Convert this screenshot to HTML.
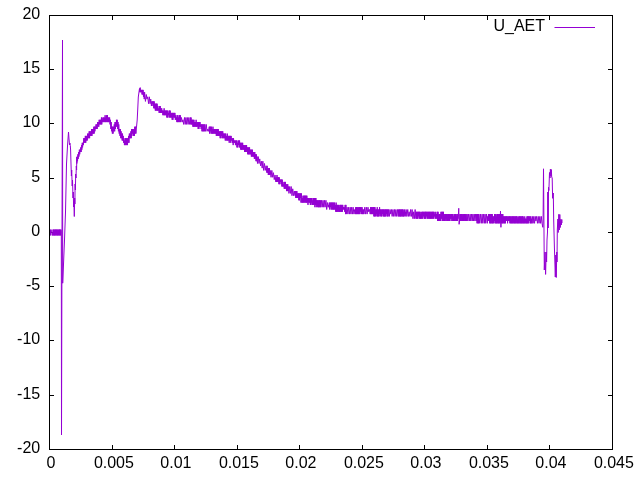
<!DOCTYPE html>
<html lang="en">
<head>
<meta charset="utf-8">
<title>U_AET</title>
<style>
html,body{margin:0;padding:0;background:#fff;width:640px;height:480px;overflow:hidden}
svg{display:block}
</style>
</head>
<body>
<svg width="640" height="480" viewBox="0 0 640 480">
<rect x="0" y="0" width="640" height="480" fill="#ffffff"/>
<g fill="none" stroke="#000" stroke-width="1">
<path d="M49.5,449.5h4.5M612.5,449.5h-4.5"/>
<path d="M49.5,395.5h4.5M612.5,395.5h-4.5"/>
<path d="M49.5,340.5h4.5M612.5,340.5h-4.5"/>
<path d="M49.5,286.5h4.5M612.5,286.5h-4.5"/>
<path d="M49.5,232.5h4.5M612.5,232.5h-4.5"/>
<path d="M49.5,178.5h4.5M612.5,178.5h-4.5"/>
<path d="M49.5,123.5h4.5M612.5,123.5h-4.5"/>
<path d="M49.5,69.5h4.5M612.5,69.5h-4.5"/>
<path d="M49.5,15.5h4.5M612.5,15.5h-4.5"/>
<path d="M49.5,449.5v-4.5M49.5,15.5v4.5"/>
<path d="M112.5,449.5v-4.5M112.5,15.5v4.5"/>
<path d="M174.5,449.5v-4.5M174.5,15.5v4.5"/>
<path d="M237.5,449.5v-4.5M237.5,15.5v4.5"/>
<path d="M299.5,449.5v-4.5M299.5,15.5v4.5"/>
<path d="M362.5,449.5v-4.5M362.5,15.5v4.5"/>
<path d="M424.5,449.5v-4.5M424.5,15.5v4.5"/>
<path d="M487.5,449.5v-4.5M487.5,15.5v4.5"/>
<path d="M549.5,449.5v-4.5M549.5,15.5v4.5"/>
<path d="M612.5,449.5v-4.5M612.5,15.5v4.5"/>
</g>
<g font-family="'Liberation Sans', Arial, sans-serif" font-size="16" fill="#000">
<text x="40.2" y="452.90" text-anchor="end">-20</text>
<text x="40.2" y="398.90" text-anchor="end">-15</text>
<text x="40.2" y="343.90" text-anchor="end">-10</text>
<text x="40.2" y="289.90" text-anchor="end">-5</text>
<text x="40.2" y="235.90" text-anchor="end">0</text>
<text x="40.2" y="181.90" text-anchor="end">5</text>
<text x="40.2" y="126.90" text-anchor="end">10</text>
<text x="40.2" y="72.90" text-anchor="end">15</text>
<text x="40.2" y="18.90" text-anchor="end">20</text>
<text x="50.90" y="468.1" text-anchor="middle">0</text>
<text x="113.90" y="468.1" text-anchor="middle">0.005</text>
<text x="175.90" y="468.1" text-anchor="middle">0.01</text>
<text x="238.90" y="468.1" text-anchor="middle">0.015</text>
<text x="300.90" y="468.1" text-anchor="middle">0.02</text>
<text x="363.90" y="468.1" text-anchor="middle">0.025</text>
<text x="425.90" y="468.1" text-anchor="middle">0.03</text>
<text x="488.90" y="468.1" text-anchor="middle">0.035</text>
<text x="550.90" y="468.1" text-anchor="middle">0.04</text>
<text x="613.90" y="468.1" text-anchor="middle">0.045</text>
<text x="545" y="30.9" text-anchor="end">U_AET</text>
</g>
<path d="M554.5,27.5H595" stroke="#9400d3" stroke-width="1" fill="none"/>
<polyline points="50.00,235.40 50.40,229.60 50.73,235.40 51.10,232.50 51.52,232.50 51.95,229.60 52.38,235.40 52.72,232.50 53.06,235.40 53.43,229.60 53.76,235.40 54.13,229.60 54.51,235.40 54.91,229.60 55.29,235.40 55.65,229.60 56.02,235.40 56.40,229.60 56.79,235.40 57.19,229.60 57.56,235.40 57.94,229.60 58.34,235.40 58.76,229.60 59.16,235.40 59.50,229.60 59.85,235.40 60.18,229.60 60.60,235.40 60.96,229.60 61.30,232.00 61.50,435.00 62.50,40.00 62.70,283.20 63.60,262.00 64.50,240.00 65.50,212.00 66.50,164.00 67.50,146.00 68.50,132.00 69.00,139.00 69.50,145.00 69.90,143.00 70.30,145.50 70.60,150.00 71.00,164.00 71.40,176.00 71.70,170.00 72.20,186.00 72.50,180.00 73.00,198.00 73.30,192.00 73.60,207.00 73.90,202.00 74.30,216.50 74.70,198.00 74.90,204.00 75.10,184.00 75.40,190.00 75.70,174.00 76.00,178.00 76.30,166.00 76.60,170.00 76.80,157.00 76.80,163.50 77.14,156.60 77.52,161.20 77.84,154.30 78.23,158.90 78.61,152.00 78.94,156.60 79.37,149.70 79.73,154.30 80.07,149.70 80.43,152.00 80.76,147.40 81.18,152.00 81.54,145.10 81.87,149.70 82.25,142.80 82.58,147.40 83.00,142.80 83.38,145.10 83.77,138.20 84.17,142.80 84.51,138.20 84.92,142.80 85.34,135.90 85.75,142.80 86.10,135.90 86.43,140.50 86.83,135.90 87.26,140.50 87.63,133.60 87.97,138.20 88.40,133.60 88.79,138.20 89.19,131.30 89.60,138.20 90.01,131.30 90.45,135.90 90.88,131.30 91.22,135.90 91.56,129.00 91.95,135.90 92.29,129.00 92.67,133.60 93.10,129.00 93.45,133.60 93.84,126.70 94.18,133.60 94.55,126.70 94.92,131.30 95.31,126.70 95.68,129.00 96.02,124.40 96.41,129.00 96.80,124.40 97.18,129.00 97.59,122.10 98.00,126.70 98.40,122.10 98.80,126.70 99.17,119.80 99.60,124.40 99.98,119.80 100.32,124.40 100.67,119.80 101.10,124.40 101.44,117.50 101.79,124.40 102.16,117.50 102.51,122.10 102.87,119.80 103.19,122.10 103.52,117.50 103.90,122.10 104.33,117.50 104.75,122.10 105.12,115.20 105.47,122.10 105.87,117.50 106.24,122.10 106.66,115.20 107.08,122.10 107.46,115.20 107.80,122.10 108.14,117.50 108.50,122.10 108.85,117.50 109.22,122.10 109.62,117.50 110.00,124.40 110.42,119.80 110.83,129.00 111.23,122.10 111.65,131.30 112.02,126.70 112.36,133.60 112.70,126.70 113.10,133.60 113.46,126.70 113.83,131.30 114.26,124.40 114.70,131.30 115.02,122.10 115.40,129.00 115.72,122.10 116.09,126.70 116.44,119.80 116.85,126.70 117.27,119.80 117.71,129.00 118.04,122.10 118.43,131.30 118.77,124.40 119.19,133.60 119.58,129.00 119.98,135.90 120.32,129.00 120.74,138.20 121.13,131.30 121.46,138.20 121.84,133.60 122.17,140.50 122.50,133.60 122.84,140.50 123.22,135.90 123.62,142.80 124.02,138.20 124.43,145.10 124.75,140.50 125.15,145.10 125.54,138.20 125.87,145.10 126.31,138.20 126.68,145.10 127.06,138.20 127.49,145.10 127.83,138.20 128.17,142.80 128.59,135.90 129.01,142.80 129.34,133.60 129.70,138.20 130.11,133.60 130.45,138.20 130.88,131.30 131.24,138.20 131.61,129.00 131.94,135.90 132.37,129.00 132.75,133.60 133.17,129.00 133.60,135.90 134.00,129.00 134.41,135.90 134.74,126.70 135.12,133.60 135.53,126.70 135.92,133.60 136.29,129.00 136.80,124.00 137.20,120.00 137.80,108.00 138.30,97.00 139.00,92.00 139.50,88.50 139.80,92.20 140.23,87.60 140.57,92.20 140.90,89.90 141.29,92.20 141.66,89.90 142.02,94.50 142.38,89.90 142.76,94.50 143.11,89.90 143.47,96.80 143.89,92.20 144.22,99.10 144.60,92.20 145.44,101.40 146.27,94.50 146.97,99.10 147.72,96.80 148.57,103.70 149.35,96.80 150.09,103.70 150.74,99.10 151.43,106.00 151.79,101.40 152.19,103.70 152.58,101.40 152.97,106.00 153.40,101.40 153.78,108.30 154.21,101.40 154.54,108.30 154.91,103.70 155.34,110.60 155.70,103.70 156.05,110.60 156.43,103.70 156.79,110.60 157.13,103.70 157.56,110.60 157.91,106.00 158.34,110.60 158.78,108.30 159.15,112.90 159.55,106.00 159.91,112.90 160.24,106.00 160.61,112.90 160.93,108.30 161.36,112.90 161.72,108.30 162.10,112.90 162.52,110.60 162.85,115.20 163.26,110.60 163.69,115.20 164.11,108.30 164.55,115.20 164.95,110.60 165.28,115.20 165.67,110.60 166.02,115.20 166.45,110.60 166.82,117.50 167.17,110.60 167.58,117.50 167.94,110.60 168.36,115.20 168.71,112.90 169.07,117.50 169.50,110.60 169.84,117.50 170.21,110.60 170.61,117.50 171.03,112.90 171.44,117.50 171.81,112.90 172.16,119.80 172.58,112.90 172.95,119.80 173.30,112.90 173.74,117.50 174.16,112.90 174.51,117.50 174.90,112.90 175.32,119.80 175.74,115.20 176.13,119.80 176.49,117.50 176.88,122.10 177.21,115.20 177.55,122.10 177.97,115.20 178.30,122.10 178.70,117.50 179.07,122.10 179.50,115.20 179.86,122.10 180.30,115.20 180.70,122.10 181.44,117.50 182.17,122.10 182.91,119.80 183.67,124.40 184.51,117.50 185.23,124.40 185.90,117.50 186.66,124.40 187.32,117.50 188.14,124.40 188.82,117.50 189.68,124.40 190.33,117.50 190.75,124.40 191.09,117.50 191.46,124.40 191.81,119.80 192.19,124.40 192.54,119.80 192.87,126.70 193.19,119.80 193.59,126.70 193.94,119.80 194.31,126.70 194.69,122.10 195.04,126.70 195.41,122.10 195.75,126.70 196.12,119.80 196.52,126.70 196.90,122.10 197.33,126.70 197.74,122.10 198.17,129.00 198.60,122.10 198.93,129.00 199.27,122.10 199.69,126.70 200.04,122.10 200.39,126.70 200.82,124.40 201.17,129.00 201.55,124.40 201.97,131.30 202.40,124.40 202.76,131.30 203.20,124.40 203.61,131.30 204.02,124.40 204.41,131.30 204.81,124.40 205.48,131.30 206.22,124.40 207.06,131.30 207.84,129.00 208.56,131.30 209.25,126.70 209.59,133.60 209.93,126.70 210.27,131.30 210.68,126.70 211.01,133.60 211.37,126.70 211.80,133.60 212.23,129.00 212.58,133.60 212.96,126.70 213.31,133.60 213.70,129.00 214.06,133.60 214.49,129.00 214.81,133.60 215.19,129.00 215.54,133.60 215.90,129.00 216.32,135.90 216.70,129.00 217.09,135.90 217.52,129.00 217.84,135.90 218.25,129.00 218.61,135.90 218.96,131.30 219.36,135.90 219.74,131.30 220.16,138.20 220.55,131.30 220.94,138.20 221.27,131.30 221.61,135.90 222.00,131.30 222.33,138.20 222.75,131.30 223.08,138.20 223.51,133.60 223.84,138.20 224.23,133.60 224.59,138.20 224.94,133.60 225.26,140.50 225.67,133.60 226.10,140.50 226.49,135.90 226.90,140.50 227.29,133.60 227.62,140.50 227.94,135.90 228.38,140.50 228.79,135.90 229.21,142.80 229.57,135.90 229.95,140.50 230.36,135.90 230.75,142.80 231.12,135.90 231.54,140.50 231.97,138.20 232.39,142.80 232.78,138.20 233.17,145.10 233.52,138.20 233.92,142.80 234.31,140.50 234.66,142.80 235.08,140.50 235.44,145.10 235.80,140.50 236.14,145.10 236.50,140.50 236.91,147.40 237.31,142.80 237.63,147.40 238.03,140.50 238.41,145.10 238.82,140.50 239.21,147.40 239.56,140.50 239.97,147.40 240.37,142.80 240.73,149.70 241.10,142.80 241.49,149.70 241.87,142.80 242.27,149.70 242.66,142.80 243.04,149.70 243.43,145.10 243.81,149.70 244.21,145.10 244.63,152.00 245.06,145.10 245.43,152.00 245.87,145.10 246.22,152.00 246.59,145.10 246.95,152.00 247.36,147.40 247.71,154.30 248.06,147.40 248.45,154.30 248.80,147.40 249.20,154.30 249.57,147.40 249.91,154.30 250.33,149.70 250.68,154.30 251.01,149.70 251.36,156.60 251.73,149.70 252.09,156.60 252.42,149.70 252.83,156.60 253.16,152.00 253.51,156.60 253.92,152.00 254.35,158.90 254.77,152.00 255.17,158.90 255.59,154.30 256.00,161.20 256.38,154.30 256.72,161.20 257.10,156.60 257.48,163.50 258.23,156.60 259.01,163.50 259.74,158.90 260.59,165.80 261.37,161.20 262.16,168.10 262.87,161.20 263.63,170.40 264.47,163.50 265.24,170.40 266.07,165.80 266.82,172.70 267.17,165.80 267.55,172.70 267.97,168.10 268.32,175.00 268.72,168.10 269.08,175.00 269.48,168.10 269.88,175.00 270.21,170.40 271.05,177.30 271.84,170.40 272.68,177.30 273.46,172.70 274.25,179.60 275.04,175.00 275.83,181.90 276.17,177.30 276.59,181.90 277.01,175.00 277.36,181.90 277.72,177.30 278.15,181.90 278.49,177.30 278.92,184.20 279.28,177.30 279.72,184.20 280.05,179.60 280.39,181.90 280.73,179.60 281.15,184.20 281.50,179.60 281.83,186.50 282.25,179.60 282.65,186.50 283.07,181.90 283.48,186.50 283.90,184.20 284.24,188.80 284.57,181.90 284.94,188.80 285.35,181.90 285.75,188.80 286.16,184.20 286.55,191.10 286.98,184.20 287.34,191.10 287.76,184.20 288.13,191.10 288.53,186.50 288.95,193.40 289.68,186.50 290.50,193.40 291.15,186.50 291.97,195.70 292.74,188.80 293.57,195.70 294.36,191.10 295.07,195.70 295.42,191.10 295.77,198.00 296.14,191.10 296.55,198.00 296.89,191.10 297.24,198.00 297.66,193.40 298.05,198.00 298.45,193.40 298.82,200.30 299.15,193.40 299.48,200.30 299.83,193.40 300.21,198.00 300.63,193.40 300.98,202.60 301.41,193.40 301.85,202.60 302.19,198.00 302.58,202.60 303.01,195.70 303.40,202.60 303.83,195.70 304.23,202.60 304.60,195.70 305.03,202.60 305.36,195.70 305.78,202.60 306.11,195.70 306.51,202.60 306.85,195.70 307.25,202.60 307.66,198.00 307.99,204.90 308.34,198.00 308.75,202.60 309.10,198.00 309.52,202.60 309.95,198.00 310.33,204.90 310.70,198.00 311.05,204.90 311.39,198.00 311.76,202.60 312.12,200.30 312.55,204.90 312.97,198.00 313.35,204.90 313.70,198.00 314.13,204.90 314.49,198.00 314.89,207.20 315.22,198.00 315.56,204.90 315.90,198.00 316.25,207.20 316.59,200.30 316.94,204.90 317.32,200.30 317.71,207.20 318.10,200.30 318.51,207.20 318.84,200.30 319.26,207.20 319.58,200.30 320.00,207.20 320.42,200.30 320.79,207.20 321.52,200.30 322.19,207.20 323.01,200.30 323.72,207.20 324.44,200.30 325.09,207.20 325.95,200.30 326.70,209.50 327.46,202.60 328.15,207.20 328.56,204.90 328.91,207.20 329.29,202.60 329.71,209.50 330.05,202.60 330.40,207.20 330.79,202.60 331.18,209.50 331.60,202.60 331.97,209.50 332.34,202.60 332.70,209.50 333.07,202.60 333.50,209.50 333.83,202.60 334.26,209.50 334.65,202.60 334.98,209.50 335.31,204.90 335.74,211.80 336.16,202.60 336.56,211.80 336.91,204.90 337.31,211.80 337.68,204.90 338.04,211.80 338.43,204.90 338.78,211.80 339.12,207.20 339.49,211.80 339.82,204.90 340.22,211.80 340.56,204.90 340.95,211.80 341.31,204.90 341.69,211.80 342.01,204.90 342.36,211.80 342.72,204.90 343.13,209.50 343.50,207.20 343.91,209.50 344.32,207.20 344.72,211.80 345.13,204.90 345.54,214.10 345.95,204.90 346.29,214.10 347.06,207.20 347.91,214.10 348.65,207.20 349.48,214.10 350.20,207.20 350.94,214.10 351.65,207.20 352.41,214.10 353.12,207.20 353.95,214.10 354.69,209.50 355.36,214.10 355.69,207.20 356.11,214.10 356.45,207.20 356.78,214.10 357.21,207.20 357.64,214.10 358.04,207.20 358.43,214.10 358.83,207.20 359.20,214.10 359.59,207.20 359.97,214.10 360.40,207.20 360.82,211.80 361.24,207.20 361.66,214.10 362.10,207.20 362.44,214.10 362.82,209.50 363.21,214.10 363.61,209.50 363.96,214.10 364.79,207.20 365.58,214.10 366.34,207.20 367.12,214.10 367.99,207.20 368.72,211.80 369.52,209.50 370.20,214.10 370.59,207.20 370.92,214.10 371.32,207.20 371.68,214.10 372.04,207.20 372.37,214.10 372.80,207.20 373.15,214.10 373.51,207.20 373.87,216.40 374.25,207.20 374.62,216.40 374.97,207.20 375.39,216.40 375.75,209.50 376.14,214.10 376.51,209.50 376.87,216.40 377.23,207.20 377.62,216.40 378.03,209.50 378.36,216.40 378.78,209.50 379.15,216.40 379.58,207.20 379.95,214.10 380.38,209.50 380.73,216.40 381.15,209.50 381.50,216.40 381.90,209.50 382.27,214.10 382.63,209.50 383.02,216.40 383.37,209.50 383.71,216.40 384.08,209.50 384.50,216.40 384.86,209.50 385.22,216.40 385.62,209.50 385.99,216.40 386.32,209.50 386.73,214.10 387.07,209.50 387.40,216.40 387.74,209.50 388.15,216.40 388.55,209.50 389.36,216.40 390.01,209.50 390.78,214.10 391.45,209.50 392.13,216.40 392.94,209.50 393.66,216.40 394.49,209.50 395.14,216.40 395.88,209.50 396.67,216.40 397.49,209.50 398.23,216.40 398.62,209.50 399.03,216.40 399.38,209.50 399.77,216.40 400.10,209.50 400.45,216.40 400.85,209.50 401.20,216.40 401.63,209.50 402.06,216.40 402.47,209.50 402.82,216.40 403.19,209.50 403.53,216.40 403.87,211.80 404.28,216.40 404.64,209.50 404.98,214.10 405.39,211.80 405.77,216.40 406.12,209.50 406.90,216.40 407.75,209.50 408.44,216.40 409.11,211.80 409.94,216.40 410.62,209.50 411.45,216.40 412.12,209.50 412.95,218.70 413.66,211.80 414.37,218.70 415.13,209.50 415.95,218.70 416.34,211.80 416.74,218.70 417.12,211.80 417.48,218.70 417.88,211.80 418.21,216.40 418.62,211.80 419.03,218.70 419.43,211.80 419.79,218.70 420.21,211.80 420.57,218.70 420.93,214.10 421.30,218.70 421.73,211.80 422.12,218.70 422.52,211.80 422.91,218.70 423.30,211.80 423.73,216.40 424.10,211.80 424.49,218.70 424.88,211.80 425.22,218.70 425.56,211.80 425.89,218.70 426.27,211.80 426.66,216.40 426.99,211.80 427.36,218.70 427.77,211.80 428.21,218.70 428.62,211.80 429.06,218.70 429.39,211.80 429.74,218.70 430.13,211.80 430.54,218.70 430.93,211.80 431.36,218.70 431.77,211.80 432.17,218.70 432.53,211.80 432.94,218.70 433.32,211.80 433.75,218.70 434.10,211.80 434.49,216.40 434.90,214.10 435.30,218.70 435.73,211.80 436.14,218.70 436.50,214.10 436.92,218.70 437.32,211.80 437.66,221.00 438.08,211.80 438.44,221.00 438.83,214.10 439.21,221.00 439.57,214.10 439.90,221.00 440.23,214.10 440.58,221.00 440.97,211.80 441.40,218.70 441.83,211.80 442.22,221.00 442.63,211.80 443.04,221.00 443.44,211.80 443.81,221.00 444.14,214.10 444.57,221.00 444.92,214.10 445.26,221.00 445.63,214.10 445.98,218.70 446.38,214.10 446.74,221.00 447.08,214.10 447.44,221.00 447.86,214.10 448.22,221.00 448.56,214.10 448.91,221.00 449.30,214.10 449.64,221.00 450.03,214.10 450.40,218.70 450.82,214.10 451.17,221.00 451.56,214.10 451.93,218.70 452.32,214.10 452.71,221.00 453.04,214.10 453.47,221.00 453.83,216.40 454.24,221.00 454.63,214.10 455.02,221.00 455.43,214.10 455.84,221.00 456.25,214.10 456.61,221.00 456.95,216.40 457.36,221.00 457.71,214.10 458.03,218.70 458.42,214.10 458.76,208.30 459.10,224.30 459.53,221.00 459.90,214.10 460.26,221.00 460.66,214.10 461.08,221.00 461.51,214.10 461.86,221.00 462.23,214.10 462.64,221.00 463.08,214.10 463.42,221.00 463.77,214.10 464.13,221.00 464.55,214.10 464.93,221.00 465.28,214.10 465.69,221.00 466.11,214.10 466.43,221.00 467.11,214.10 467.77,221.00 468.42,214.10 469.27,221.00 470.10,214.10 470.75,221.00 471.56,214.10 472.21,221.00 472.90,214.10 473.56,221.00 474.27,214.10 474.93,221.00 475.60,214.10 476.28,221.00 476.69,214.10 477.05,223.30 477.41,214.10 477.84,223.30 478.18,214.10 478.51,223.30 478.89,214.10 479.68,223.30 480.44,214.10 481.30,223.30 482.10,214.10 482.81,223.30 483.66,214.10 484.39,223.30 485.06,214.10 485.70,223.30 486.54,214.10 487.32,223.30 487.66,216.40 488.09,221.00 488.49,214.10 488.92,221.00 489.30,214.10 489.65,223.30 490.02,214.10 490.40,223.30 490.76,214.10 491.11,223.30 491.53,214.10 491.92,223.30 492.26,214.10 492.64,223.30 492.99,216.40 493.38,223.30 493.81,216.40 494.22,221.00 494.56,214.10 494.94,223.30 495.31,214.10 495.68,223.30 496.09,216.40 496.47,223.30 496.84,214.10 497.18,223.30 497.52,214.10 497.88,223.30 498.22,214.10 498.56,223.30 498.96,214.10 499.33,223.30 499.69,214.10 500.10,223.30 500.49,211.20 500.93,227.30 501.32,214.10 501.73,223.30 502.11,214.10 502.44,223.30 502.82,214.10 503.19,223.30 503.57,216.40 503.97,223.30 504.30,216.40 504.71,223.30 505.06,216.40 505.39,223.30 505.72,216.40 506.10,221.00 506.49,216.40 506.91,221.00 507.23,216.40 507.59,223.30 508.01,216.40 508.38,221.00 508.79,216.40 509.14,221.00 509.51,216.40 509.88,223.30 510.31,216.40 510.67,223.30 511.05,216.40 511.47,223.30 511.88,216.40 512.31,223.30 512.64,216.40 512.97,223.30 513.36,216.40 513.77,223.30 514.17,216.40 514.59,223.30 514.93,216.40 515.30,223.30 515.72,216.40 516.05,223.30 516.47,216.40 516.86,223.30 517.20,216.40 517.62,223.30 517.99,218.70 518.34,223.30 518.71,216.40 519.11,223.30 519.54,216.40 519.92,223.30 520.33,216.40 520.67,223.30 521.06,216.40 521.40,223.30 521.82,216.40 522.14,223.30 522.50,216.40 522.83,223.30 523.18,216.40 523.60,223.30 523.98,218.70 524.37,223.30 524.76,216.40 525.15,223.30 525.54,218.70 525.90,223.30 526.28,218.70 526.62,223.30 526.96,216.40 527.34,223.30 527.68,216.40 528.02,223.30 528.40,216.40 528.83,223.30 529.22,216.40 529.63,221.00 530.00,216.40 530.42,223.30 530.81,216.40 531.14,223.30 531.58,218.70 531.99,223.30 532.37,216.40 533.10,223.30 533.76,216.40 534.56,223.30 535.23,216.40 535.90,221.00 536.61,216.40 537.47,223.30 538.22,216.40 539.03,223.30 539.84,216.40 540.52,223.30 541.35,216.40 542.01,223.30 542.80,227.30 543.10,219.00 543.50,168.80 544.30,270.00 545.00,252.00 545.60,274.40 546.20,252.00 546.60,262.00 547.00,240.00 547.50,232.00 547.80,192.00 548.20,228.00 548.50,187.30 548.90,190.50 549.50,172.50 550.00,178.00 550.40,169.20 550.90,176.00 551.30,169.50 551.70,177.00 552.20,178.00 552.60,198.30 553.30,193.00 553.70,220.00 554.00,232.00 554.40,247.00 555.30,277.00 555.80,255.00 556.25,277.50 556.80,252.00 557.00,262.00 557.30,230.00 557.90,219.00 558.20,232.50 558.80,214.30 559.30,230.00 559.80,214.50 560.30,227.50 560.80,219.30 561.30,225.00 561.80,219.50 562.00,223.00" fill="none" stroke="#9400d3" stroke-width="1" stroke-linejoin="miter" stroke-linecap="butt"/>
<rect x="49.5" y="15.5" width="563.0" height="434.0" fill="none" stroke="#000" stroke-width="1"/>
</svg>
</body>
</html>
